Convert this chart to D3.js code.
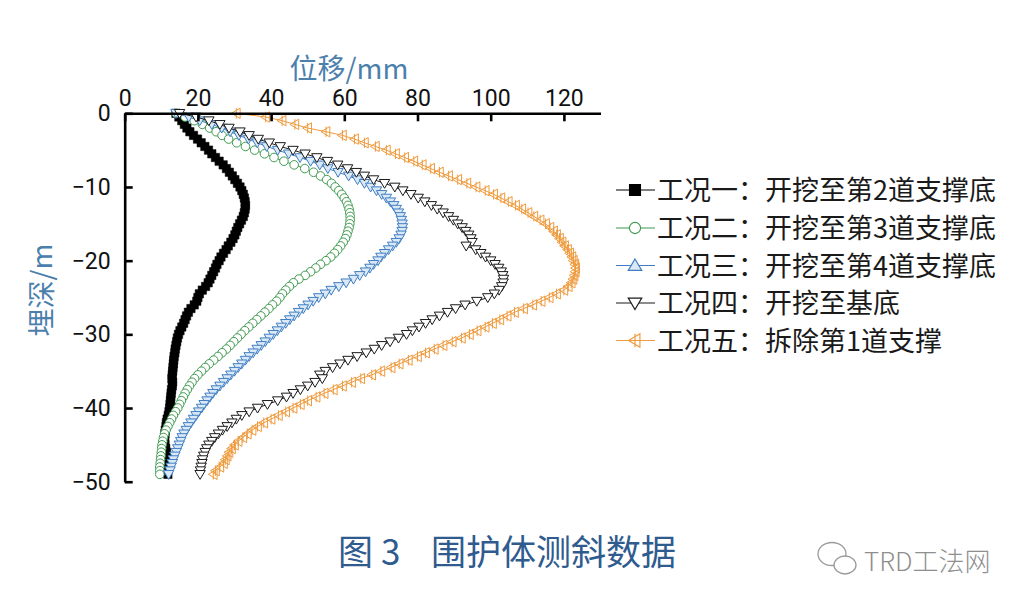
<!DOCTYPE html>
<html><head><meta charset="utf-8">
<script src="https://cdn.jsdelivr.net/npm/d3@7"></script>
<style>
html,body{margin:0;padding:0;background:#fff;}
svg{display:block;}
</style></head>
<body>
<svg id="chart" width="1021" height="605"></svg>
<script>
// Depth points (m), every 0.5 m from 0 to 49
const depth = d3.range(0, 49.5, 0.5);
const xTicks = [0, 20, 40, 60, 80, 100, 120];
const yTicks = [0, -10, -20, -30, -40, -50];
const seriesNames = ["工况一：开挖至第2道支撑底", "工况二：开挖至第3道支撑底", "工况三：开挖至第4道支撑底", "工况四：开挖至基底", "工况五：拆除第1道支撑"];

// displacement (mm) at each depth
const case1 = [
 14.0,14.8,15.6,16.3,17.0,17.8,18.8,19.9,20.9,21.9,
 22.9,23.8,24.8,25.8,26.9,27.8,28.6,29.4,30.1,30.8,
 31.5,32.0,32.4,32.7,32.9,33.0,32.9,32.7,32.4,31.9,
 31.4,30.9,30.5,30.1,29.6,29.0,28.3,27.7,27.0,26.3,
 25.8,25.2,24.8,24.3,23.8,23.3,22.8,22.1,21.2,20.4,
 20.0,19.7,19.0,18.1,17.4,16.9,16.5,16.1,15.6,15.1,
 14.7,14.4,14.2,14.0,13.8,13.7,13.5,13.4,13.3,13.2,
 13.1,13.0,12.9,13.1,13.0,12.8,12.7,12.6,12.5,12.4,
 12.3,12.1,11.9,11.6,11.4,11.3,11.1,11.0,10.9,10.9,
 11.0,11.2,11.4,11.5,11.6,11.6,11.7,11.7,11.8];
const case2 = [
 14.0,16.5,19.0,21.2,23.2,25.0,26.6,28.4,30.6,33.0,
 35.5,38.2,40.8,43.5,46.3,49.2,51.6,53.5,55.2,56.5,
 57.5,58.5,59.3,60.0,60.6,61.0,61.3,61.5,61.6,61.6,
 61.5,61.3,61.0,60.7,60.3,59.7,59.0,58.2,57.3,56.3,
 55.0,53.5,52.2,50.8,49.3,47.6,46.1,45.0,44.0,43.1,
 42.4,41.5,40.4,39.4,38.3,37.2,36.1,35.0,33.9,32.8,
 31.8,30.8,29.8,28.8,27.8,26.6,25.5,24.3,23.1,22.0,
 21.0,20.0,19.1,18.4,17.7,17.1,16.5,16.0,15.5,15.0,
 14.5,13.9,13.3,12.8,12.3,11.8,11.3,10.9,10.6,10.4,
 10.2,10.1,10.0,9.9,9.8,9.7,9.6,9.6,9.6];
const case3 = [
 14.0,17.5,20.5,23.8,26.5,28.8,31.2,33.8,36.2,38.8,
 41.8,44.8,47.9,50.8,53.3,55.5,58.3,61.2,63.6,65.5,
 67.2,68.8,70.2,71.5,72.6,73.5,74.2,74.8,75.3,75.6,
 75.8,75.9,75.8,75.5,75.0,74.2,73.2,72.1,71.0,70.0,
 69.2,68.0,67.0,65.8,64.2,62.5,60.5,58.5,56.4,54.8,
 53.0,51.5,50.1,48.8,47.5,46.3,45.1,44.0,42.8,41.7,
 40.6,39.5,38.4,37.3,36.2,35.1,34.0,33.0,32.0,31.0,
 30.0,29.0,28.0,27.0,26.0,25.0,24.1,23.3,22.5,21.7,
 21.0,20.2,19.5,18.8,18.1,17.4,16.8,16.2,15.7,15.3,
 14.9,14.5,14.1,13.7,13.3,13.0,12.7,12.4,12.0];
const case4 = [
 15.0,19.5,23.0,26.0,28.5,31.5,34.0,36.5,39.5,42.5,
 46.0,49.3,52.5,55.4,58.2,60.9,63.3,65.5,68.0,71.0,
 73.8,76.0,78.2,80.2,82.0,83.8,85.4,87.0,88.5,89.8,
 91.0,92.2,93.2,94.0,94.6,94.9,93.3,95.9,97.3,98.6,
 100.0,101.2,102.2,102.9,103.3,103.5,103.4,103.0,102.3,101.0,
 99.2,96.2,93.0,90.4,88.2,86.0,84.0,82.2,80.4,78.6,
 77.0,74.8,72.5,70.2,68.2,66.0,63.5,61.0,58.8,56.8,
 54.8,53.3,54.0,52.0,50.0,48.0,46.0,44.2,41.8,39.0,
 36.3,34.0,32.0,30.5,29.3,28.0,26.7,25.6,24.6,23.8,
 23.0,22.4,22.0,21.6,21.3,21.1,20.9,20.7,20.6];
const case5 = [
 30.5,38.5,43.0,46.5,50.0,55.0,59.5,62.8,65.5,68.5,
 71.5,74.0,76.5,79.0,81.3,83.6,86.0,88.5,91.0,93.5,
 96.0,98.5,100.8,102.8,104.8,106.8,108.5,110.2,111.8,113.5,
 115.0,116.2,117.2,118.0,118.8,119.5,120.2,121.0,121.6,122.2,
 122.6,123.0,123.2,123.1,122.8,122.5,122.0,121.2,120.0,118.0,
 116.0,113.8,111.5,109.0,106.5,104.5,102.5,100.5,98.5,96.3,
 94.2,92.0,89.5,87.0,84.6,82.2,80.0,77.5,75.0,72.8,
 70.0,67.5,64.5,62.0,59.5,57.0,54.5,52.3,50.0,48.0,
 46.0,44.0,42.0,40.0,38.0,36.3,34.8,33.5,32.3,31.0,
 30.0,29.2,28.5,28.0,27.5,27.0,26.0,24.8,24.2];

const seriesValues = [case1, case2, case3, case4, case5];
const colors = ["#000000", "#3f9a4f", "#3f7ec4", "#1a1a1a", "#ef9a3c"];
const fills  = ["#000000", "#ffffff", "#dbe8f5", "#ffffff", "none"];
const legendShapes = ["square", "circle", "triUp", "triDown", "triLeft"];
const plotShapes   = ["square", "circle", "triDown", "triDown", "triLeft"];

const svg = d3.select("#chart");
const x = d3.scaleLinear().domain([0, 130]).range([124.7, 600.5]);
const y = d3.scaleLinear().domain([0, -50]).range([113.3, 481.7]);

function markerPath(shape) {
  switch (shape) {
    case "square": return "M-4.2,-4.2H4.2V4.2H-4.2Z";
    case "circle": return d3.symbol(d3.symbolCircle, 58)();
    case "triUp": return "M0,-5L5.2,3.8L-5.2,3.8Z";
    case "triDown": return "M0,5L5.2,-3.8L-5.2,-3.8Z";
    case "triLeft": return "M-5,0L3.8,-5.2L3.8,5.2Z M0,-5.2V5.2";
  }
}

const plot = svg.append("g");
seriesValues.forEach((vals, si) => {
  const pts = depth.map((d, i) => ({ d: -d, v: vals[i] }));
  const g = plot.append("g");
  g.append("path")
    .datum(pts)
    .attr("fill", "none")
    .attr("stroke", colors[si])
    .attr("stroke-width", 1)
    .attr("d", d3.line().x(p => x(p.v)).y(p => y(p.d)));
  g.selectAll("path.m").data(pts).join("path")
    .attr("class", "m")
    .attr("transform", p => `translate(${x(p.v)},${y(p.d)})`)
    .attr("d", markerPath(plotShapes[si]))
    .attr("fill", fills[si])
    .attr("stroke", colors[si])
    .attr("stroke-width", si === 0 ? 0.5 : 1);
});

// Axes
const xAxis = d3.axisTop(x).tickValues(xTicks).tickSize(-8).tickSizeOuter(0).tickPadding(7);
const yAxis = d3.axisLeft(y).tickValues(yTicks).tickSize(-8).tickSizeOuter(0).tickPadding(14)
  .tickFormat(d => d === 0 ? "0" : "\u2212" + Math.abs(d));

const gx = svg.append("g").attr("transform", `translate(0,${y(0)})`).call(xAxis);
const gy = svg.append("g").attr("transform", `translate(${x(0)},0)`).call(yAxis);
[gx, gy].forEach(g => {
  g.select(".domain").attr("stroke", "#000").attr("stroke-width", 2.6);
  g.selectAll(".tick line").attr("stroke", "#000").attr("stroke-width", 2.6);
  g.selectAll(".tick text").attr("fill", "#111")
    .style("font-family", "Roboto, 'Liberation Sans', sans-serif")
    .style("font-weight", 400)
    .style("font-size", "23px");
});

// Axis titles
svg.append("text").attr("x", 349).attr("y", 79).attr("text-anchor", "middle")
  .attr("fill", "#4b80ad").style("font-family", "'Noto Sans CJK SC', sans-serif")
  .style("font-size", "28px").text("位移/mm");
svg.append("text").attr("transform", "translate(52,290) rotate(-90)").attr("text-anchor", "middle")
  .attr("fill", "#4b80ad").style("font-family", "'Noto Sans CJK SC', sans-serif")
  .style("font-size", "28px").text("埋深/m");

// Legend
const legY = [190, 228, 265.5, 303, 340.5];
seriesNames.forEach((name, i) => {
  const g = svg.append("g").attr("transform", `translate(0,${legY[i]})`);
  g.append("line").attr("x1", 616).attr("x2", 655).attr("y1", 0).attr("y2", 0)
    .attr("stroke", colors[i]).attr("stroke-width", 1.2);
  g.append("path").attr("transform", "translate(635,0) scale(1.3)")
    .attr("d", markerPath(legendShapes[i]))
    .attr("fill", fills[i]).attr("stroke", colors[i]).attr("stroke-width", 0.9);
  g.append("text").attr("x", 657).attr("y", 10)
    .attr("fill", "#1a1a1a").style("font-family", "'Noto Sans CJK SC', sans-serif")
    .style("font-size", "27px").text(name);
});

// Caption
const cap = svg.append("text").attr("y", 565).attr("fill", "#2f5b8f")
  .style("font-family", "'Noto Sans CJK SC', sans-serif").style("font-size", "35px");
cap.append("tspan").attr("x", 338).text("图");
cap.append("tspan").attr("x", 381).text("3");
cap.append("tspan").attr("x", 431).text("围护体测斜数据");

// Watermark
const wm = svg.append("g").attr("fill", "none").attr("stroke", "#9a9a9a").attr("stroke-width", 1.3);
wm.append("ellipse").attr("cx", 832).attr("cy", 554).attr("rx", 14).attr("ry", 11.5);
wm.append("ellipse").attr("cx", 845).attr("cy", 565).attr("rx", 11).attr("ry", 9).attr("fill", "#fff");
svg.append("text").attr("x", 864).attr("y", 571).attr("fill", "#8f8f8f")
  .style("font-family", "'Noto Sans CJK SC', sans-serif").style("font-weight", 300)
  .style("font-size", "26px").text("TRD工法网");
</script>
</body></html>
